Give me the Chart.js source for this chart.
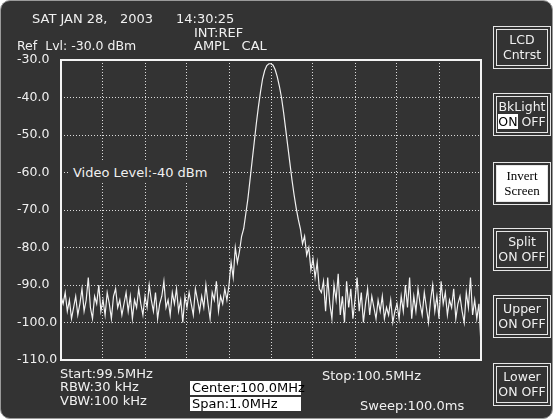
<!DOCTYPE html>
<html lang="en">
<head>
    <meta charset="UTF-8">
    <title>Spectrum</title>
    <script src="https://cdn.jsdelivr.net/npm/chart.js"></script>
    <style>
        body { margin: 0; background: #ffffff; }
        .tela {
            position: absolute; left: 0; top: 0; width: 551px; height: 417px;
            background: #333333; border: 1px solid #9a9a9a; border-radius: 10px;
            font-family: "DejaVu Sans", Verdana, sans-serif; color: #f0f0f0;
            overflow: hidden;
        }
        .txt { position: absolute; white-space: pre; font-size: 13px; line-height: 13px; }
        .caixa {
            position: absolute; background: #ffffff; color: #000000;
            font-size: 13px; line-height: 14px; padding-left: 2px; white-space: pre;
        }
        .botao {
            position: absolute; left: 495px; width: 52px; height: 37px;
            border: 1px solid #e6e6e6; outline: 1px solid #e6e6e6; outline-offset: 2px;
            text-align: center; font-size: 12.5px; line-height: 15px; padding-top: 2px;
            box-sizing: border-box; white-space: nowrap;
        }
        .on { background: #ffffff; color: #000000; }
        #wrap { position: absolute; left: 0; top: 0; width: 553px; height: 419px; }
        .video {
            position: absolute; left: 69px; top: 161px; width: 150px; height: 21px;
            background: #333333; font-size: 13px; line-height: 21px; padding-left: 3px;
        }
    </style>
</head>
<body>
<div class="tela">
    <div id="wrap"><canvas id="grafico"></canvas></div>

    <div class="txt" style="left: 31px; top: 11px;">SAT JAN 28,   2003</div>
    <div class="txt" style="left: 175px; top: 11px;">14:30:25</div>
    <div class="txt" style="left: 193px; top: 25px;">INT:REF</div>
    <div class="txt" style="left: 16px; top: 38px; font-size: 12.5px;">Ref  Lvl: -30.0 dBm</div>
    <div class="txt" style="left: 193px; top: 38px;">AMPL   CAL</div>

    <div class="video">Video Level:-40 dBm</div>

    <div class="txt" style="left: 59px; top: 366px;">Start:99.5MHz</div>
    <div class="txt" style="left: 59px; top: 379px;">RBW:30 kHz</div>
    <div class="txt" style="left: 59px; top: 393px;">VBW:100 kHz</div>
    <div class="caixa" style="left: 189px; top: 380px; width: 109px; height: 14px;">Center:100.0MHz</div>
    <div class="caixa" style="left: 189px; top: 396px; width: 109px; height: 14px;">Span:1.0MHz</div>
    <div class="txt" style="left: 321px; top: 368px;">Stop:100.5MHz</div>
    <div class="txt" style="left: 359px; top: 398px;">Sweep:100.0ms</div>

    <div class="botao" style="top: 28px;">LCD<br>Cntrst</div>
    <div class="botao" style="top: 95px;">BkLight<br><span class="on">ON</span> OFF</div>
    <div class="botao" style="top: 164px; background: #ffffff; color: #000; font-family: 'Liberation Serif', serif; font-size: 13px;">Invert<br>Screen</div>
    <div class="botao" style="top: 230px;">Split<br>ON OFF</div>
    <div class="botao" style="top: 297px;">Upper<br>ON OFF</div>
    <div class="botao" style="top: 365px;">Lower<br>ON OFF</div>
</div>
<script>
    // varredura 99.5 - 100.5 MHz, passo 5 kHz
    const inicioMHz = 99.5;
    const passoMHz = 0.005;

    // ruido a esquerda (99.500 - 99.895)
    const ruidoEsq = [-93,-95,-92,-97,-94,-99,-96,-93,-98,-95,-91,-97,-94,-88,-96,-99,-93,-95,-90,-97,
        -94,-98,-92,-95,-99,-93,-91,-96,-94,-98,-95,-92,-97,-93,-99,-94,-96,-91,-95,-98,
        -93,-96,-90,-94,-97,-92,-99,-95,-93,-89,-96,-94,-98,-92,-95,-91,-97,-94,-100,-93,
        -96,-92,-95,-98,-91,-94,-97,-93,-96,-90,-95,-99,-92,-94,-89,-97,-93,-95,-91,-94];

    // portadora (99.900 - 100.115)
    const portadora = [-90,-84,-88,-80,-84,-81,-77,-75,-71,-67,-62,-57,-52,-47,-42.5,-38.5,-35,-32.8,-31.5,-31,
        -31,-31.4,-32.6,-34.5,-37,-40,-44,-48.5,-53,-57.5,-62,-66,-69.5,-72.5,-75,-79,-77,-82,-80,-86,
        -83,-88,-84,-91];

    // ruido a direita (100.120 - 100.500)
    const ruidoDir = [-92,-89,-97,-88,-95,-99,-90,-94,-87,-98,-93,-100,-89,-96,-91,-99,-94,-88,-97,-92,
        -100,-95,-91,-98,-93,-96,-99,-94,-97,-93,-99,-96,-98,-94,-100,-97,-95,-99,-93,-97,
        -90,-96,-88,-99,-93,-97,-91,-95,-98,-92,-96,-100,-94,-90,-97,-93,-99,-89,-95,-92,
        -98,-94,-96,-91,-99,-95,-93,-97,-100,-92,-96,-88,-98,-94,-99,-95,-106];

    const nivelDbm = ruidoEsq.concat(portadora, ruidoDir);
    const pontos = nivelDbm.map((v, i) => ({ x: inicioMHz + i * passoMHz, y: v }));

    const yMin = -110;
    const yMax = -30;

    // moldura branca da area do grafico
    const moldura = {
        id: 'moldura',
        beforeDatasetsDraw(chart) {
            const a = chart.chartArea;
            const ctx = chart.ctx;
            ctx.save();
            ctx.strokeStyle = '#f4f4f4';
            ctx.lineWidth = 2;
            ctx.setLineDash([]);
            ctx.strokeRect(a.left, a.top, a.right - a.left, a.bottom - a.top);
            ctx.restore();
        }
    };

    const ctx = document.getElementById('grafico').getContext('2d');
    const chart = new Chart(ctx, {
        type: 'line',
        data: {
            datasets: [{
                data: pontos,
                borderColor: '#f2f2f2',
                borderWidth: 1.2,
                pointRadius: 0,
                tension: 0,
                fill: false
            }]
        },
        options: {
            responsive: true,
            maintainAspectRatio: false,
            animation: false,
            layout: { padding: { left: 16, top: 59, right: 73, bottom: 60 } },
            plugins: { legend: { display: false }, tooltip: { enabled: false } },
            scales: {
                x: {
                    type: 'linear',
                    min: 99.5,
                    max: 100.5,
                    ticks: { display: false, stepSize: 0.1 },
                    grid: { color: '#dcdcdc', drawTicks: false, lineWidth: 1 },
                    border: { display: false, dash: [1, 2] },
                    afterFit(scale) { scale.height = 0; }
                },
                y: {
                    min: yMin,
                    max: yMax,
                    ticks: {
                        stepSize: 10,
                        color: '#f0f0f0',
                        padding: 0,
                        crossAlign: 'far',
                        font: { family: 'DejaVu Sans', size: 12.5 },
                        callback: v => v.toFixed(1)
                    },
                    grid: { color: '#dcdcdc', drawTicks: false, lineWidth: 1 },
                    border: { display: false, dash: [1, 2] },
                    afterFit(scale) { scale.width = 44; }
                }
            }
        },
        plugins: [moldura]
    });
</script>
</body>
</html>
